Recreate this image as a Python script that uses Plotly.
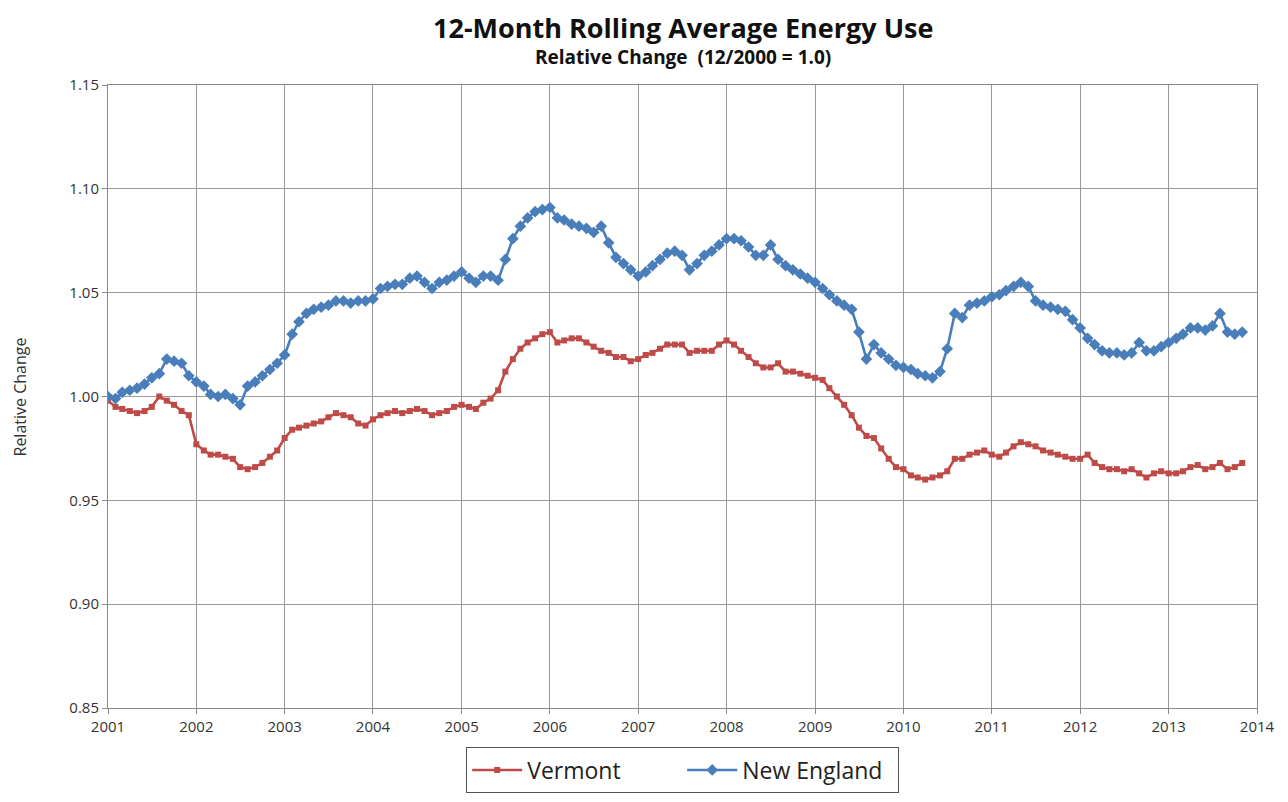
import pandas as pd
import plotly.graph_objects as go

# Monthly 12-month rolling average, relative to 12/2000 = 1.0 (Jan 2001 .. Nov 2013)
vermont = [
    # 2001
    0.998, 0.995, 0.994, 0.993, 0.992, 0.993, 0.995, 1.000, 0.998, 0.996, 0.993, 0.991,
    # 2002
    0.977, 0.974, 0.972, 0.972, 0.971, 0.970, 0.966, 0.965, 0.966, 0.968, 0.971, 0.974,
    # 2003
    0.980, 0.984, 0.985, 0.986, 0.987, 0.988, 0.990, 0.992, 0.991, 0.990, 0.987, 0.986,
    # 2004
    0.989, 0.991, 0.992, 0.993, 0.992, 0.993, 0.994, 0.993, 0.991, 0.992, 0.993, 0.995,
    # 2005
    0.996, 0.995, 0.994, 0.997, 0.999, 1.003, 1.012, 1.018, 1.023, 1.026, 1.028, 1.030,
    # 2006
    1.031, 1.026, 1.027, 1.028, 1.028, 1.026, 1.024, 1.022, 1.021, 1.019, 1.019, 1.017,
    # 2007
    1.018, 1.020, 1.021, 1.023, 1.025, 1.025, 1.025, 1.021, 1.022, 1.022, 1.022, 1.025,
    # 2008
    1.027, 1.025, 1.022, 1.019, 1.016, 1.014, 1.014, 1.016, 1.012, 1.012, 1.011, 1.010,
    # 2009
    1.009, 1.008, 1.004, 1.000, 0.996, 0.991, 0.985, 0.981, 0.980, 0.975, 0.970, 0.966,
    # 2010
    0.965, 0.962, 0.961, 0.960, 0.961, 0.962, 0.964, 0.970, 0.970, 0.972, 0.973, 0.974,
    # 2011
    0.972, 0.971, 0.973, 0.976, 0.978, 0.977, 0.976, 0.974, 0.973, 0.972, 0.971, 0.970,
    # 2012
    0.970, 0.972, 0.968, 0.966, 0.965, 0.965, 0.964, 0.965, 0.963, 0.961, 0.963, 0.964,
    # 2013
    0.963, 0.963, 0.964, 0.966, 0.967, 0.965, 0.966, 0.968, 0.965, 0.966, 0.968,
]

new_england = [
    # 2001
    1.000, 0.999, 1.002, 1.003, 1.004, 1.006, 1.009, 1.011, 1.018, 1.017, 1.016, 1.010,
    # 2002
    1.007, 1.005, 1.001, 1.000, 1.001, 0.999, 0.996, 1.005, 1.007, 1.010, 1.013, 1.016,
    # 2003
    1.020, 1.030, 1.036, 1.040, 1.042, 1.043, 1.044, 1.046, 1.046, 1.045, 1.046, 1.046,
    # 2004
    1.047, 1.052, 1.053, 1.054, 1.054, 1.057, 1.058, 1.055, 1.052, 1.055, 1.056, 1.058,
    # 2005
    1.060, 1.057, 1.055, 1.058, 1.058, 1.056, 1.066, 1.076, 1.082, 1.086, 1.089, 1.090,
    # 2006
    1.091, 1.086, 1.085, 1.083, 1.082, 1.081, 1.079, 1.082, 1.074, 1.067, 1.064, 1.061,
    # 2007
    1.058, 1.060, 1.063, 1.066, 1.069, 1.070, 1.068, 1.061, 1.064, 1.068, 1.070, 1.073,
    # 2008
    1.076, 1.076, 1.075, 1.072, 1.068, 1.068, 1.073, 1.066, 1.063, 1.061, 1.059, 1.057,
    # 2009
    1.055, 1.052, 1.049, 1.046, 1.044, 1.042, 1.031, 1.018, 1.025, 1.021, 1.018, 1.015,
    # 2010
    1.014, 1.013, 1.011, 1.010, 1.009, 1.012, 1.023, 1.040, 1.038, 1.044, 1.045, 1.046,
    # 2011
    1.048, 1.049, 1.051, 1.053, 1.055, 1.053, 1.046, 1.044, 1.043, 1.042, 1.041, 1.037,
    # 2012
    1.033, 1.028, 1.025, 1.022, 1.021, 1.021, 1.020, 1.021, 1.026, 1.022, 1.022, 1.024,
    # 2013
    1.026, 1.028, 1.030, 1.033, 1.033, 1.032, 1.034, 1.040, 1.031, 1.030, 1.031,
]

months = pd.date_range("2001-01-01", periods=len(vermont), freq="MS")
year_ticks = [f"{y}-01-01" for y in range(2001, 2015)]
year_labels = [str(y) for y in range(2001, 2015)]
y_ticks = [0.85, 0.90, 0.95, 1.00, 1.05, 1.10, 1.15]

TITLE = "12-Month Rolling Average Energy Use"
SUBTITLE = "Relative Change  (12/2000 = 1.0)"
Y_TITLE = "Relative Change"

RED = "#BE4B48"
BLUE = "#4A7EBB"
FONT = "Open Sans, Liberation Sans, sans-serif"

fig = go.Figure()
fig.add_trace(go.Scatter(
    x=months, y=vermont, name="Vermont", mode="lines+markers",
    line=dict(color=RED, width=2.6),
    marker=dict(symbol="square", size=6, color=RED),
))
fig.add_trace(go.Scatter(
    x=months, y=new_england, name="New England", mode="lines+markers",
    line=dict(color=BLUE, width=2.6),
    marker=dict(symbol="diamond", size=9, color=BLUE),
))

fig.update_layout(
    width=1288, height=802,
    paper_bgcolor="white", plot_bgcolor="white",
    margin=dict(l=100, r=39, t=77, b=102),
    font=dict(family=FONT, color="#333333"),
    showlegend=True,
    legend=dict(
        orientation="h", x=0.5, xanchor="center", y=-0.1, yanchor="middle",
        bordercolor="#555555", borderwidth=1.2, bgcolor="white",
        font=dict(size=23, color="#222222", family=FONT),
        entrywidth=150, itemwidth=50,
    ),
    annotations=[
        dict(text=f"<b>{TITLE}</b>", xref="paper", yref="paper", x=0.5, y=1.093,
             xanchor="center", yanchor="middle", showarrow=False,
             font=dict(size=27, color="#111111", family=FONT)),
        dict(text=f"<b>{SUBTITLE}</b>", xref="paper", yref="paper", x=0.5, y=1.045,
             xanchor="center", yanchor="middle", showarrow=False,
             font=dict(size=19, color="#111111", family=FONT)),
        dict(text=Y_TITLE, xref="paper", yref="paper", x=-0.0766, y=0.5,
             xanchor="center", yanchor="middle", showarrow=False, textangle=-90,
             font=dict(size=16, color="#333333", family=FONT)),
    ],
)

fig.update_xaxes(
    type="date",
    range=["2001-01-01", "2014-01-01"],
    tickmode="array", tickvals=year_ticks, ticktext=year_labels,
    showgrid=True, gridcolor="#999999", gridwidth=1,
    showline=True, linecolor="#888888", linewidth=1, mirror=True,
    ticks="outside", ticklen=5, tickcolor="#888888",
    tickfont=dict(size=15, color="#333333"),
    zeroline=False,
)
fig.update_yaxes(
    range=[0.85, 1.15],
    tickmode="array", tickvals=y_ticks, tickformat=".2f",
    showgrid=True, gridcolor="#999999", gridwidth=1,
    showline=True, linecolor="#888888", linewidth=1, mirror=True,
    ticks="outside", ticklen=5, tickcolor="#888888",
    tickfont=dict(size=15, color="#333333"),
    zeroline=False,
)

fig.write_html("out.html")
